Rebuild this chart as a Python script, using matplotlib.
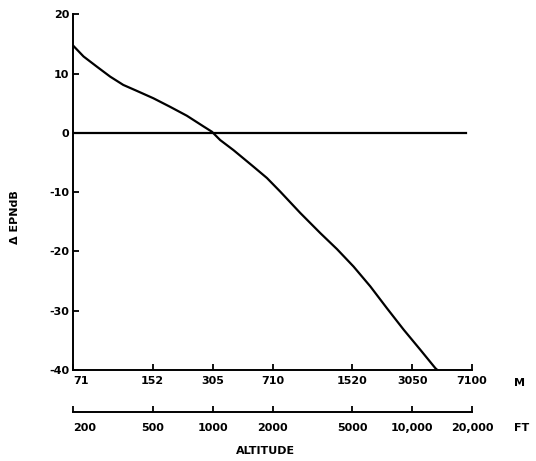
import matplotlib
matplotlib.use("Agg")

import matplotlib.pyplot as plt
from matplotlib.ticker import FixedLocator, NullLocator

# altitude in feet and delta EPNdB
alt_ft = [200, 225, 262, 306, 356, 416, 504, 612, 742, 899, 991,
          1090, 1271, 1427, 1602, 1870, 2181, 2748, 3464, 4200, 5088,
          6175, 7487, 9074, 11006, 13086, 13392]
delta_epndb = [14.7, 12.9, 11.2, 9.5, 8.1, 7.1, 5.85, 4.4, 2.9, 1.1, 0.2,
               -1.2, -2.9, -4.3, -5.7, -7.6, -9.9, -13.5, -16.9, -19.6,
               -22.55, -25.9, -29.6, -33.2, -36.6, -39.7, -40.0]

# reference line at 0
ref_ft = [200, 18600]
ref_db = [0, 0]

ft_ticks = [200, 500, 1000, 2000, 5000, 10000, 20000]
ft_labels = ["200", "500", "1000", "2000", "5000", "10,000", "20,000"]
m_labels = ["71", "152", "305", "710", "1520", "3050", "7100"]
y_ticks = [20, 10, 0, -10, -20, -30, -40]

FONT = dict(fontsize=8, fontweight="bold", color="black")

fig = plt.figure(figsize=(5.36, 4.61), dpi=100)
fig.patch.set_facecolor("white")

ax = fig.add_axes([0.1368, 0.1974, 0.744, 0.7714])
ax.plot(alt_ft, delta_epndb, color="black", linewidth=1.6)
ax.plot(ref_ft, ref_db, color="black", linewidth=1.6)

ax.set_xscale("log")
ax.set_xlim(200, 20000)
ax.set_ylim(-40, 20)

ax.spines["top"].set_visible(False)
ax.spines["right"].set_visible(False)
for side in ("left", "bottom"):
    ax.spines[side].set_linewidth(1.4)

ax.xaxis.set_major_locator(FixedLocator(ft_ticks))
ax.xaxis.set_minor_locator(NullLocator())
ax.set_xticklabels(m_labels, **FONT)
ax.set_yticks(y_ticks)
ax.set_yticklabels([str(v) for v in y_ticks], **FONT)
ax.tick_params(axis="both", direction="in", length=4, width=1.3, pad=3)
ax.tick_params(axis="x", pad=4)
ax.get_xticklabels()[0].set_horizontalalignment("left")

ax.text(-0.146, 0.43, "\u0394 EPNdB", rotation=90, ha="center", va="center",
        transform=ax.transAxes, **FONT)
ax.text(1.12, -0.036, "M", ha="center", va="center",
        transform=ax.transAxes, **FONT)

# second scale in feet below the plot
ax2 = fig.add_axes([0.1368, 0.1063, 0.744, 0.0])
ax2.set_xscale("log")
ax2.set_xlim(200, 20000)
ax2.set_facecolor("none")
for side in ("top", "left", "right"):
    ax2.spines[side].set_visible(False)
ax2.spines["bottom"].set_linewidth(1.4)
ax2.yaxis.set_visible(False)
ax2.xaxis.set_major_locator(FixedLocator(ft_ticks))
ax2.xaxis.set_minor_locator(NullLocator())
ax2.set_xticklabels(ft_labels, **FONT)
ax2.tick_params(axis="x", direction="in", length=4, width=1.3, pad=8)
ax2.get_xticklabels()[0].set_horizontalalignment("left")

fig.text(522 / 536, 1 - 428 / 461, "FT", ha="center", va="center", **FONT)
fig.text(265 / 536, 1 - 451 / 461, "ALTITUDE", ha="center", va="center", **FONT)

fig.savefig("out.png", dpi=100)
